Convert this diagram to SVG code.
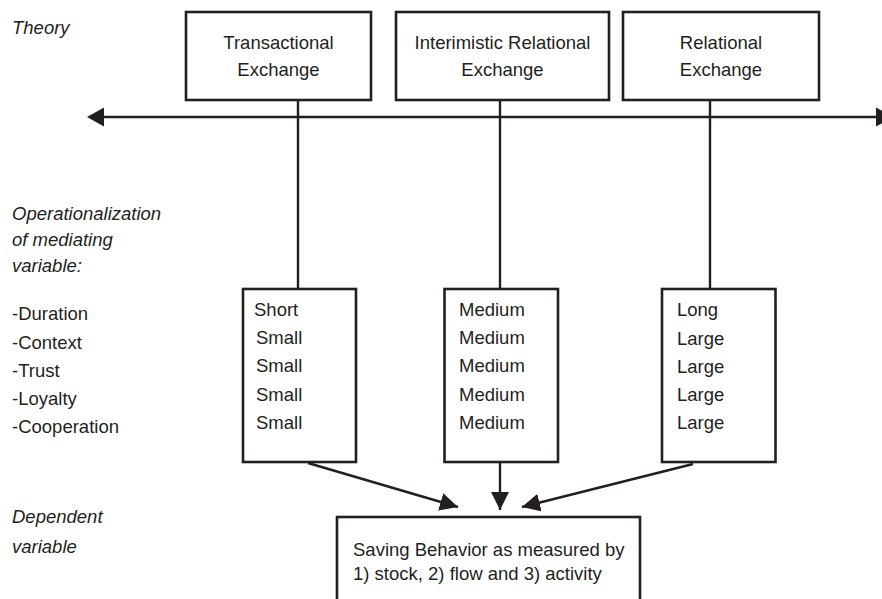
<svg xmlns="http://www.w3.org/2000/svg" width="882" height="599" viewBox="0 0 882 599">
<style>
text{font-family:"Liberation Sans",Arial,sans-serif;font-size:18.5px;fill:#231f20}
.it{font-style:italic}
.c{text-anchor:middle}
.box{fill:#fff;stroke:#231f20;stroke-width:2.6}
.ln{fill:none;stroke:#231f20;stroke-width:2.4}
</style>
<defs>
<marker id="ah" viewBox="0 0 10 10" refX="10" refY="5" markerWidth="7.5" markerHeight="7.5" markerUnits="strokeWidth" orient="auto">
<path d="M0,0 L10,5 L0,10 Z" fill="#231f20"/>
</marker>
</defs>
<g id="labels">
<text class="it" x="12" y="34">Theory</text>
<text class="it" x="12" y="220">Operationalization</text>
<text class="it" x="12" y="246">of mediating</text>
<text class="it" x="12" y="272">variable:</text>
<text x="12" y="320">-Duration</text>
<text x="12" y="348.5">-Context</text>
<text x="12" y="376.5">-Trust</text>
<text x="12" y="404.5">-Loyalty</text>
<text x="12" y="432.5">-Cooperation</text>
<text class="it" x="12" y="523">Dependent</text>
<text class="it" x="12" y="553">variable</text>
</g>
<g id="connectors">
<line class="ln" x1="104" y1="117" x2="876" y2="117"/>
<path d="M87,117 L104,107.5 L104,126.5 Z" fill="#231f20"/>
<path d="M893,117 L876,107.5 L876,126.5 Z" fill="#231f20"/>
<line class="ln" x1="298" y1="100" x2="298" y2="289"/>
<line class="ln" x1="500" y1="100" x2="500" y2="289"/>
<line class="ln" x1="710" y1="100" x2="710" y2="289"/>
<line class="ln" x1="308" y1="463" x2="458" y2="507" marker-end="url(#ah)"/>
<line class="ln" x1="500" y1="462" x2="500" y2="510" marker-end="url(#ah)"/>
<line class="ln" x1="693" y1="464" x2="522" y2="507" marker-end="url(#ah)"/>
</g>
<g id="transactional">
<rect class="box" x="186" y="12" width="185" height="88"/>
<text class="c" x="278.5" y="49">Transactional</text>
<text class="c" x="278.5" y="76">Exchange</text>
</g>
<g id="interimistic">
<rect class="box" x="396" y="12" width="213" height="88"/>
<text class="c" x="502.5" y="49">Interimistic Relational</text>
<text class="c" x="502.5" y="76">Exchange</text>
</g>
<g id="relational">
<rect class="box" x="623" y="12" width="196" height="88"/>
<text class="c" x="721" y="49">Relational</text>
<text class="c" x="721" y="76">Exchange</text>
</g>
<g id="ops-transactional">
<rect class="box" x="243" y="289" width="113" height="173"/>
<text x="254" y="316">Short</text>
<text x="256" y="344">Small</text>
<text x="256" y="372">Small</text>
<text x="256" y="400.5">Small</text>
<text x="256" y="429">Small</text>
</g>
<g id="ops-interimistic">
<rect class="box" x="444.5" y="289" width="113.5" height="173"/>
<text x="459" y="316">Medium</text>
<text x="459" y="344">Medium</text>
<text x="459" y="372">Medium</text>
<text x="459" y="400.5">Medium</text>
<text x="459" y="429">Medium</text>
</g>
<g id="ops-relational">
<rect class="box" x="662" y="289" width="113.5" height="173"/>
<text x="677" y="316">Long</text>
<text x="677" y="344.5">Large</text>
<text x="677" y="372.5">Large</text>
<text x="677" y="401">Large</text>
<text x="677" y="429">Large</text>
</g>
<g id="saving-behavior">
<rect class="box" x="337" y="517" width="303" height="100"/>
<text x="353" y="556">Saving Behavior as measured by</text>
<text x="353" y="580">1) stock, 2) flow and 3) activity</text>
</g>
</svg>
